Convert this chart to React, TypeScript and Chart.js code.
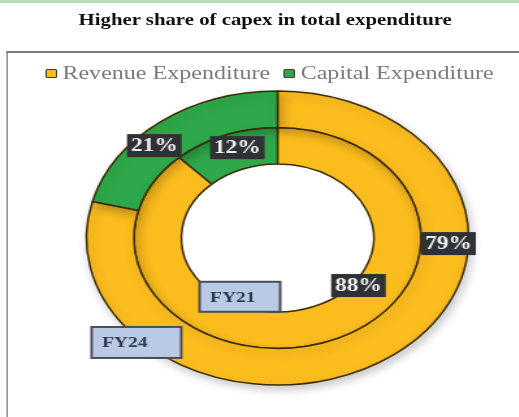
import React, { useEffect, useRef } from "react";
import { Chart, registerables } from "chart.js";

Chart.register(...registerables);

// ---- data ----
const title = "Higher share of capex in total expenditure";
const categories = ["Revenue Expenditure", "Capital Expenditure"];
const years = ["FY24", "FY21"]; // outer ring first, inner ring second
const revenueShare = [79, 88]; // % per year (FY24, FY21)
const capitalShare = [21, 12]; // % per year (FY24, FY21)

// ---- style / layout ----
const W = 519;
const H = 417;
const SX = 1.3; // the reference is stretched horizontally
const W0 = W / SX;
const COLORS = ["#FBBC1E", "#2EA84A"];
const BORDER = "#3b2b08";
const SERIF = '"Liberation Serif", "Times New Roman", serif';

// label placement on the arcs: t = fraction along the arc, u = fraction across the ring (0 inner edge, 1 outer edge)
const VALUE_POS = [
  [{ t: 0.325, u: 0.58 }, { t: 0.395, u: 0.6 }],
  [{ t: 0.402, u: 0.12 }, { t: 0.5625, u: 0.59 }],
];
const YEAR_POS = [
  { t: 0.795, u: 1.1, w: 69, h: 31 },
  { t: 0.651, u: -0.23, w: 62, h: 30 },
];

function pointOn(arc: any, t: number, u: number) {
  const p = arc.getProps(["x", "y", "startAngle", "endAngle", "innerRadius", "outerRadius"], true);
  const a = p.startAngle + t * (p.endAngle - p.startAngle);
  const r = p.innerRadius + u * (p.outerRadius - p.innerRadius);
  return { x: p.x + Math.cos(a) * r, y: p.y + Math.sin(a) * r };
}

const ringLabels = {
  id: "ringLabels",
  beforeDatasetDraw(chart: any, args: any) {
    if (args.index === 0) {
      const ctx = chart.ctx;
      ctx.save();
      ctx.shadowColor = "rgba(0,0,0,0.22)";
      ctx.shadowBlur = 9;
      ctx.shadowOffsetY = 4;
      ctx.shadowOffsetX = 2;
    }
  },
  afterDatasetDraw(chart: any, args: any) {
    if (args.index === 0) chart.ctx.restore();
  },
  afterDatasetsDraw(chart: any) {
    const ctx = chart.ctx;
    chart.data.datasets.forEach((ds: any, di: number) => {
      const meta = chart.getDatasetMeta(di);
      meta.data.forEach((arc: any, i: number) => {
        const pos = VALUE_POS[di][i];
        const c = pointOn(arc, pos.t, pos.u);
        const bw = 42;
        const bh = 23;
        ctx.save();
        ctx.fillStyle = "#2f3235";
        ctx.fillRect(c.x - bw / 2, c.y - bh / 2, bw, bh);
        ctx.fillStyle = "#f2f2f2";
        ctx.font = `bold 18px ${SERIF}`;
        ctx.textAlign = "center";
        ctx.textBaseline = "middle";
        ctx.fillText(`${ds.data[i]}%`, c.x, c.y + 1);
        ctx.restore();
      });
      const yp = YEAR_POS[di];
      const c = pointOn(meta.data[0], yp.t, yp.u);
      ctx.save();
      ctx.fillStyle = "#b9c9e6";
      ctx.strokeStyle = "#4a4f57";
      ctx.lineWidth = 2;
      ctx.fillRect(c.x - yp.w / 2, c.y - yp.h / 2, yp.w, yp.h);
      ctx.strokeRect(c.x - yp.w / 2, c.y - yp.h / 2, yp.w, yp.h);
      ctx.fillStyle = "#2e3a4c";
      ctx.font = `bold 15px ${SERIF}`;
      ctx.textAlign = "left";
      ctx.textBaseline = "middle";
      ctx.fillText(ds.label, c.x - yp.w / 2 + 8, c.y + 1);
      ctx.restore();
    });
  },
};

export default function App() {
  const ref = useRef<HTMLCanvasElement | null>(null);

  useEffect(() => {
    if (!ref.current) return;
    const chart = new Chart(ref.current, {
      type: "doughnut",
      data: {
        labels: categories,
        datasets: years.map((y, k) => ({
          label: y,
          data: [revenueShare[k], capitalShare[k]],
          backgroundColor: COLORS,
          borderColor: BORDER,
          borderWidth: 1.5,
        })),
      },
      options: {
        animation: false,
        responsive: true,
        maintainAspectRatio: false,
        events: [],
        cutout: "50.3%",
        radius: 147,
        layout: { padding: { left: 63.5, right: W0 - 213.5 - 150, top: 88, bottom: H - 238 - 150 } },
        plugins: {
          legend: { display: false },
          tooltip: { enabled: false },
          title: { display: false },
        },
      },
      plugins: [ringLabels],
    });
    return () => chart.destroy();
  }, []);

  return (
    <div style={{ position: "fixed", left: 0, top: 0, width: W, height: H, overflow: "hidden", background: "#ffffff" }}>
      <div style={{ position: "absolute", left: 0, top: 0, width: W, height: 2.5, background: "#b7dcb6" }} />
      <div
        style={{
          position: "absolute",
          left: 0,
          top: 0,
          width: W0,
          height: H,
          transform: `scaleX(${SX})`,
          transformOrigin: "0 0",
        }}
      >
        <div
          style={{
            position: "absolute",
            left: 0,
            top: 11,
            width: 408,
            textAlign: "center",
            fontFamily: SERIF,
            fontWeight: "bold",
            fontSize: 16,
            lineHeight: "18px",
            color: "#111",
            whiteSpace: "nowrap",
          }}
        >
          {title}
        </div>
        <div
          style={{
            position: "absolute",
            left: 5,
            top: 51,
            width: 600,
            height: 600,
            borderTop: "2px solid #7d7d7d",
            borderLeft: "1.6px solid #7d7d7d",
          }}
        />
        <div
          style={{
            position: "absolute",
            left: 34.5,
            top: 62,
            height: 22,
            display: "flex",
            alignItems: "center",
            fontFamily: SERIF,
            fontSize: 18.5,
            color: "#7a7a7a",
            whiteSpace: "nowrap",
          }}
        >
          {categories.map((c, i) => (
            <div key={c} style={{ display: "flex", alignItems: "center", marginLeft: i === 0 ? 0 : 10 }}>
              <span
                style={{
                  display: "inline-block",
                  width: 9,
                  height: 9,
                  boxSizing: "border-box",
                  background: COLORS[i],
                  border: "1.5px solid #3d3d2a",
                  borderRadius: 1.5,
                  marginRight: 4.5,
                }}
              />
              <span>{c}</span>
            </div>
          ))}
        </div>
        <div style={{ position: "absolute", left: 0, top: 0, width: W0, height: H }}>
          <canvas ref={ref} />
        </div>
      </div>
    </div>
  );
}
